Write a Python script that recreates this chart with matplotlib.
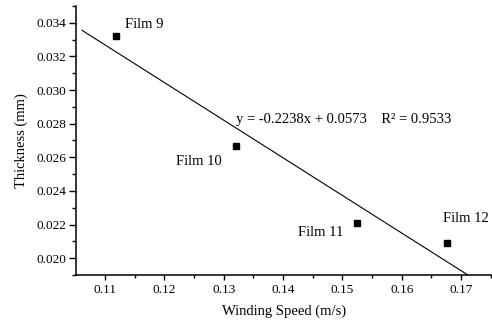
import numpy as np
import matplotlib.pyplot as plt
from matplotlib.ticker import MultipleLocator

plt.rcParams['font.family'] = ['Liberation Serif', 'DejaVu Serif']

# данные
films = ['Film 9', 'Film 10', 'Film 11', 'Film 12']
speed = [0.1118, 0.1320, 0.1524, 0.1676]
thickness = [0.03324, 0.02666, 0.02210, 0.02093]
slope, intercept, r2 = -0.2238, 0.0573, 0.9533

fig = plt.figure(figsize=(4.92, 3.2), dpi=100)
ax = fig.add_axes([0.1545, 0.1406, 0.8455, 0.8407])

# линия тренда
x_fit = np.linspace(0.1061, 0.1711, 50)
ax.plot(x_fit, slope * x_fit + intercept, color='black', lw=0.8)

ax.plot(speed, thickness, 's', color='black', ms=4.6, ls='none')

# подписи точек
offsets = [(6.7, 7.9, 'left'), (-10, -11, 'right'), (-9.9, -7.2, 'right'), (-3.1, 17, 'left')]
for name, x, y, (dx, dy, ha) in zip(films, speed, thickness, offsets):
    ax.annotate(name, (x, y), xytext=(dx, dy), textcoords='offset points',
                ha=ha, va='center', fontsize=10.5)

ax.text(0.13205, 0.02823, f"y = {slope}x + {intercept}    R² = {r2}",
        ha='left', va='center', fontsize=10.5)

ax.set_xlim(0.1051, 0.1752)
ax.set_ylim(0.019, 0.035)
ax.xaxis.set_major_locator(MultipleLocator(0.01))
ax.xaxis.set_minor_locator(MultipleLocator(0.005))
ax.yaxis.set_major_locator(MultipleLocator(0.002))
ax.yaxis.set_minor_locator(MultipleLocator(0.001))
ax.set_xticks(np.arange(0.11, 0.175, 0.01))
ax.set_xticklabels([f"{v:.2f}" for v in np.arange(0.11, 0.175, 0.01)])
ax.set_yticks(np.arange(0.020, 0.0345, 0.002))
ax.set_yticklabels([f"{v:.3f}" for v in np.arange(0.020, 0.0345, 0.002)])

for s in ['top', 'right']:
    ax.spines[s].set_visible(False)
for s in ['left', 'bottom']:
    ax.spines[s].set_linewidth(1.1)

ax.tick_params(axis='y', which='major', length=5, width=1, pad=2, labelsize=9.5)
ax.tick_params(axis='y', which='minor', length=3, width=1)
ax.tick_params(axis='x', which='major', length=3.5, width=1, pad=3, labelsize=9.5)
ax.tick_params(axis='x', which='minor', length=2.2, width=1)

ax.set_xlabel("Winding Speed (m/s)", fontsize=10.5, labelpad=6)
ax.set_ylabel("Thickness (mm)", fontsize=10.5, labelpad=6)

plt.savefig('out.png', dpi=100)
